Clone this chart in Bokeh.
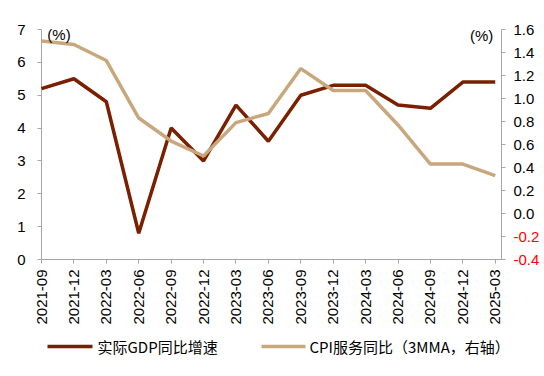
from bokeh.plotting import figure
from bokeh.models import (Range1d, LinearAxis, FixedTicker, Label,
                          NumeralTickFormatter)
from bokeh.core.properties import value
from bokeh.embed import file_html
from bokeh.resources import INLINE
from math import pi

dates = ["2021-09", "2021-12", "2022-03", "2022-06", "2022-09", "2022-12",
         "2023-03", "2023-06", "2023-09", "2023-12", "2024-03", "2024-06",
         "2024-09", "2024-12", "2025-03"]
gdp = [5.2, 5.5, 4.8, 0.8, 4.0, 3.0, 4.7, 3.6, 5.0, 5.3, 5.3, 4.7, 4.6, 5.4, 5.4]
cpi_services = [1.50, 1.47, 1.33, 0.83, 0.63, 0.50, 0.79, 0.87, 1.26, 1.07, 1.07,
                0.77, 0.43, 0.43, 0.33]
left_ticks = [0, 1, 2, 3, 4, 5, 6, 7]
right_ticks = [-0.4, -0.2, 0.0, 0.2, 0.4, 0.6, 0.8, 1.0, 1.2, 1.4, 1.6]
name_gdp = "实际GDP同比增速"
name_cpi = "CPI服务同比（3MMA，右轴）"

C_GDP = "#7A1F00"
C_CPI = "#C9A77C"
AX = "#A6A6A6"
FONT = "Liberation Sans"
CJK = "Noto Sans CJK SC"

W, H = 544, 376
# plot area (pixels): left 41, right 501, top 29, bottom 259
PL, PT, PB = 41, 29, 259
STEP = 32.41                       # px per category
X_END = 460 / STEP                 # right-axis position in category units
L_LO, L_HI = 0, 7
R_LO, R_HI = -0.4, 1.6
LPX = (PB - PT) / (L_HI - L_LO)    # px per left unit
RPX = (PB - PT) / (R_HI - R_LO)    # px per right unit

xs = list(range(len(dates)))

# the frame covers the whole canvas so that nothing is clipped
p = figure(width=W, height=H, output_backend="svg", toolbar_location=None,
           x_axis_location=None, y_axis_location=None,
           x_range=Range1d(-PL / STEP, (W - PL) / STEP),
           y_range=Range1d(L_LO - (H - PB) / LPX, L_LO + PB / LPX),
           min_border=0)
p.outline_line_color = None
p.grid.visible = False
p.background_fill_color = "white"
p.border_fill_color = "white"
p.extra_y_ranges = {"right": Range1d(R_LO - (H - PB) / RPX, R_LO + PB / RPX),
                    "py": Range1d(H, 0)}
p.extra_x_ranges = {"px": Range1d(0, W)}


def style_axis(ax, standoff):
    ax.axis_line_color = None
    ax.major_tick_line_color = AX
    ax.major_tick_in = 0
    ax.major_tick_out = 4
    ax.minor_tick_line_color = None
    ax.major_label_standoff = standoff
    ax.major_label_text_font = FONT
    ax.major_label_text_font_size = "15px"
    ax.major_label_text_color = "black"


# axis lines
p.segment(x0=[0], y0=[L_LO], x1=[0], y1=[L_HI], line_color=AX, line_width=1)
p.segment(x0=[0], y0=[L_LO], x1=[X_END], y1=[L_LO], line_color=AX, line_width=1)
p.segment(x0=[X_END], y0=[R_LO], x1=[X_END], y1=[R_HI], line_color=AX,
          line_width=1, y_range_name="right")

# x axis
xa = LinearAxis(ticker=FixedTicker(ticks=xs), fixed_location=L_LO)
xa.major_label_overrides = {i: d for i, d in enumerate(dates)}
xa.major_label_orientation = pi / 2
style_axis(xa, 6)
p.add_layout(xa, "below")

# left axis
ya = LinearAxis(ticker=FixedTicker(ticks=left_ticks), fixed_location=0)
style_axis(ya, 12)
p.add_layout(ya, "left")

# right axis: non-negative labels black, negative labels red
pos_ticks = [t for t in right_ticks if t >= 0]
neg_ticks = [t for t in right_ticks if t < 0]
ra = LinearAxis(y_range_name="right", ticker=FixedTicker(ticks=pos_ticks),
                formatter=NumeralTickFormatter(format="0.0"),
                fixed_location=X_END)
style_axis(ra, 8)
p.add_layout(ra, "right")
ra2 = LinearAxis(y_range_name="right", ticker=FixedTicker(ticks=neg_ticks),
                 formatter=NumeralTickFormatter(format="0.0"),
                 fixed_location=X_END)
style_axis(ra2, 8)
ra2.major_label_text_color = "#FF0000"
p.add_layout(ra2, "right")

# series
p.line(xs, gdp, line_color=C_GDP, line_width=3.5)
p.line(xs, cpi_services, line_color=C_CPI, line_width=3.5, y_range_name="right")

# unit labels
p.add_layout(Label(x=0.18, y=6.85, text="(%)", text_font=FONT,
                   text_font_size="15px", text_color="black",
                   text_baseline="middle", text_align="left"))
p.add_layout(Label(x=13.94, y=1.55, y_range_name="right", text="(%)",
                   text_font=FONT, text_font_size="15px", text_color="black",
                   text_baseline="middle", text_align="right"))

# legend (drawn in pixel ranges)
LY = 346
p.line([47, 92], [LY, LY], line_color=C_GDP, line_width=3.5,
       x_range_name="px", y_range_name="py")
p.line([261, 305], [LY, LY], line_color=C_CPI, line_width=3.5,
       x_range_name="px", y_range_name="py")
p.text(x=[97, 309], y=[LY, LY], text=[name_gdp, name_cpi],
       x_range_name="px", y_range_name="py",
       text_font=value(CJK), text_font_size="15px", text_color="black",
       text_baseline="middle", text_align="left")

open("out.html", "w").write(file_html(p, INLINE))
